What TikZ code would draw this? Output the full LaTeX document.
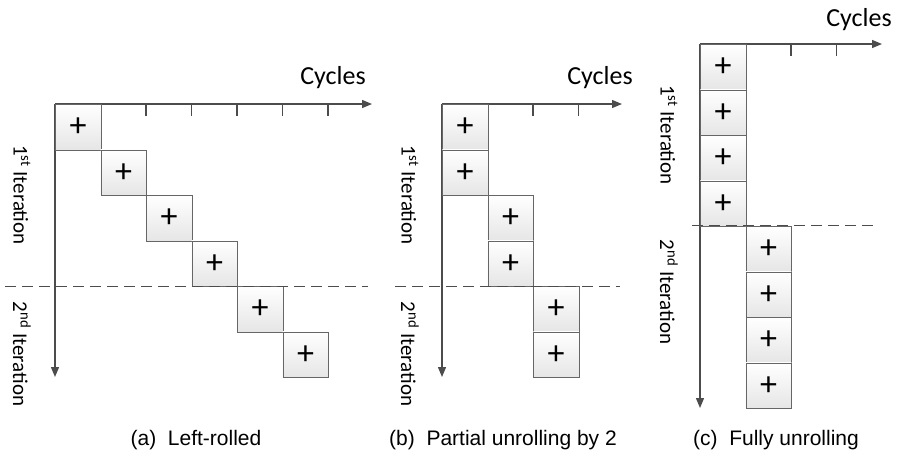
\documentclass[tikz,border=0pt]{standalone}
\usepackage{fontspec}
\usetikzlibrary{arrows.meta}
\setmainfont{Carlito}
\newfontfamily\capfont{Liberation Sans}
\begin{document}
\begin{tikzpicture}[x=1pt,y=-1pt,
  opbox/.style={draw=black!60,line width=0.9pt,top color=white,bottom color=black!10,
    minimum width=45.5pt,minimum height=45.5pt,inner sep=0pt,anchor=north west,
    font=\fontsize{34}{34}\selectfont},
  axis/.style={draw=black!70,line width=1.3pt,-{Triangle[length=10pt,width=8pt]}},
  tick/.style={draw=black!70,line width=1.2pt},
  split/.style={draw=black!70,line width=1pt,dash pattern=on 11pt off 6pt},
  axlabel/.style={font=\fontsize{26}{26}\selectfont},
  iterlabel/.style={rotate=-90,font=\fontsize{21}{21}\selectfont},
  caption/.style={font=\capfont\fontsize{21}{21}\selectfont}]
\useasboundingbox (0,0) rectangle (898,467);
\def\s{45.5}

% ---------- (a) Left-rolled ----------
\coordinate (ao) at (55,104);
\coordinate (ax) at (372,104);
\coordinate (ay) at (55,377);
\draw[axis] (ao) -- (ax);
\draw[axis] (ao) -- (ay);
\foreach \k in {2,...,6}
  \draw[tick] (55+\k*\s,104) -- (55+\k*\s,116);
\foreach \k in {0,...,5}
  \node[opbox] (a\k) at (55+\k*\s,104+\k*\s) {+};
\coordinate (ad1) at (5,286);
\coordinate (ad2) at (368,286);
\draw[split] (ad1) -- (ad2);
\node[axlabel] (acyc) at (333,78) {Cycles};
\node[iterlabel] (ait1) at (22,195) {1\textsuperscript{st} Iteration};
\node[iterlabel] (ait2) at (22,354) {2\textsuperscript{nd} Iteration};
\node[caption] (acap) at (196,440) {(a)\ \ Left-rolled};

% ---------- (b) Partial unrolling by 2 ----------
\coordinate (bo) at (442,104);
\coordinate (bx) at (622,104);
\coordinate (by) at (442,377);
\draw[axis] (bo) -- (bx);
\draw[axis] (bo) -- (by);
\foreach \k in {2,3}
  \draw[tick] (442+\k*\s,104) -- (442+\k*\s,116);
\foreach \k in {0,...,5}
  \node[opbox] (b\k) at ({442+int(\k/2)*\s},104+\k*\s) {+};
\coordinate (bd1) at (395,286);
\coordinate (bd2) at (620,286);
\draw[split] (bd1) -- (bd2);
\node[axlabel] (bcyc) at (600,78) {Cycles};
\node[iterlabel] (bit1) at (410,195) {1\textsuperscript{st} Iteration};
\node[iterlabel] (bit2) at (410,354) {2\textsuperscript{nd} Iteration};
\node[caption] (bcap) at (503,440) {(b)\ \ Partial unrolling by 2};

% ---------- (c) Fully unrolling ----------
\coordinate (co) at (700,44);
\coordinate (cx) at (882,44);
\coordinate (cy) at (700,408);
\draw[axis] (co) -- (cx);
\draw[axis] (co) -- (cy);
\foreach \k in {2,3}
  \draw[tick] (700+\k*\s,44) -- (700+\k*\s,56);
\foreach \k in {0,...,7}
  \node[opbox] (c\k) at ({700+int(\k/4)*\s},44+\k*\s) {+};
\coordinate (cd1) at (692,225);
\coordinate (cd2) at (877,225);
\draw[split] (cd1) -- (cd2);
\node[axlabel] (ccyc) at (859,20) {Cycles};
\node[iterlabel] (cit1) at (669,135) {1\textsuperscript{st} Iteration};
\node[iterlabel] (cit2) at (669,292) {2\textsuperscript{nd} Iteration};
\node[caption] (ccap) at (776,440) {(c)\ \ Fully unrolling};
\end{tikzpicture}
\end{document}
